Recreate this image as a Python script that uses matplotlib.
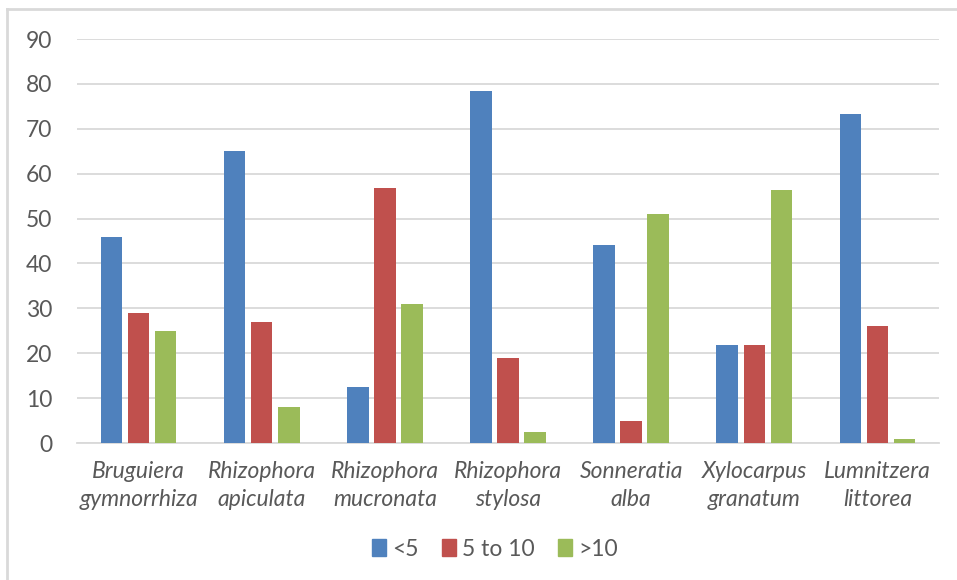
import numpy as np
import matplotlib.pyplot as plt
from matplotlib.lines import Line2D
from matplotlib.patches import Patch

species = ["Bruguiera\ngymnorrhiza", "Rhizophora\napiculata", "Rhizophora\nmucronata",
           "Rhizophora\nstylosa", "Sonneratia\nalba", "Xylocarpus\ngranatum", "Lumnitzera\nlittorea"]
series_names = ["<5", "5 to 10", ">10"]
lt5 = [46, 65, 12.5, 78.5, 44.2, 21.9, 73.4]
s5to10 = [29, 27, 56.9, 19, 4.8, 21.9, 26]
gt10 = [25, 8, 30.9, 2.5, 51.1, 56.3, 0.8]
colors = ["#4f81bd", "#c0504d", "#9bbb59"]

plt.rcParams['font.family'] = ['Lato', 'DejaVu Sans']

fig = plt.figure(figsize=(9.57, 5.8), dpi=100)
W, H = 957, 580
ax = fig.add_axes([77/W, (H-443)/H, (939-77)/W, (443-39)/H])

x = np.arange(len(species))
step = 0.22   # distance between bar centres in a group
w = 0.175
for i, vals in enumerate([lt5, s5to10, gt10]):
  ax.bar(x + (i-1)*step, vals, width=w, color=colors[i], label=series_names[i], zorder=3)

ax.set_xlim(-0.5, len(species)-0.5)
ax.set_ylim(0, 90)
ax.set_yticks(range(0, 91, 10))
ax.yaxis.grid(True, color='#d9d9d9', linewidth=1.3, zorder=0)
ax.set_axisbelow(True)
for s in ['top', 'right', 'left']:
  ax.spines[s].set_visible(False)
ax.spines['bottom'].set_color('#d9d9d9')
ax.spines['bottom'].set_linewidth(1.3)
ax.tick_params(axis='both', length=0, colors='#595959', labelsize=16.5)
ax.tick_params(axis='y', pad=18)
ax.tick_params(axis='x', pad=13)
ax.set_xticks(x)
ax.set_xticklabels(species, style='italic', linespacing=1.42)

handles = [Patch(color=c) for c in colors]
fig.legend(handles, series_names, loc='center', bbox_to_anchor=(495/W, 1-549/H), ncol=3,
           frameon=False, fontsize=16.5, handlelength=0.6, handleheight=0.7,
           handletextpad=0.3, columnspacing=1.0, labelcolor='#595959')

# frame of the cropped chart area
fig.add_artist(Line2D([7.5/W, 1], [1-9/H, 1-9/H], color='#d9d9d9', linewidth=2))
fig.add_artist(Line2D([7.5/W, 7.5/W], [0, 1-9/H], color='#d9d9d9', linewidth=2))

fig.savefig("out.png", dpi=100)
